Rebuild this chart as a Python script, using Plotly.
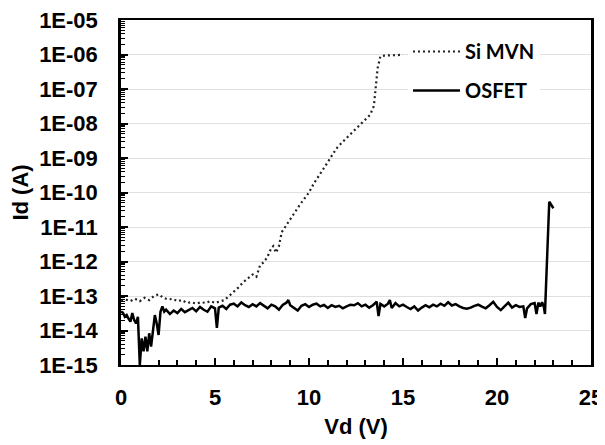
import plotly.graph_objects as go

# ---------------- data ----------------
si_mvn_vd = [0.0, 0.25, 0.5, 0.75, 1.0, 1.25, 1.5, 1.75, 2.0, 2.25, 2.5, 2.75,
             3.0, 3.25, 3.5, 3.75, 4.0, 4.25, 4.5, 4.75, 5.0, 5.25, 5.5, 5.75,
             6.0, 6.25, 6.5, 6.75, 7.0, 7.2, 7.4, 7.6, 7.8, 8.0, 8.1, 8.25,
             8.4, 8.55, 8.75, 9.0, 9.25, 9.5, 9.75, 10.0, 10.25, 10.5, 10.75,
             11.0, 11.25, 11.5, 11.75, 12.0, 12.25, 12.5, 12.75, 13.0, 13.25,
             13.45, 13.55, 13.65, 13.8, 14.0, 14.5, 15.0]
si_mvn_id = [7.6e-14, 7.9e-14, 7.1e-14, 8.3e-14, 7.1e-14, 8.9e-14, 7.6e-14, 1.0e-13,
             1.12e-13, 8.9e-14, 7.9e-14, 8.3e-14, 7.1e-14, 7.6e-14, 6.3e-14, 6.6e-14,
             6.0e-14, 6.6e-14, 6.3e-14, 7.1e-14, 6.3e-14, 7.1e-14, 7.6e-14, 1.0e-13,
             1.32e-13, 1.78e-13, 2.5e-13, 3.2e-13, 4.2e-13, 3.6e-13, 7.9e-13, 9.5e-13,
             1.4e-12, 2.5e-12, 2.8e-12, 1.8e-12, 2.8e-12, 7.1e-12, 1.05e-11, 1.6e-11,
             2.6e-11, 4.3e-11, 6.6e-11, 1.0e-10, 1.8e-10, 3.0e-10, 4.8e-10, 7.6e-10,
             1.26e-9, 2.0e-9, 2.8e-9, 3.8e-9, 5.0e-9, 7.1e-9, 9.5e-9, 1.32e-8,
             1.78e-8, 3.2e-8, 1.0e-7, 4.0e-7, 8.9e-7, 9.3e-7, 9.5e-7, 9.8e-7]

osfet_vd = [0.0, 0.1, 0.2, 0.3, 0.4, 0.5, 0.6, 0.7, 0.8, 0.9, 1.0, 1.1, 1.2, 1.3,
            1.4, 1.5, 1.6, 1.7, 1.8, 1.9, 2.0, 2.1, 2.2, 2.3, 2.4, 2.6, 2.8, 3.0,
            3.2, 3.4, 3.6, 3.8, 4.0, 4.2, 4.4, 4.6, 4.8, 5.0, 5.1, 5.2, 5.4, 5.6,
            5.8, 6.0, 6.2, 6.4, 6.6, 6.8, 7.0, 7.2, 7.4, 7.6, 7.8, 8.0, 8.2, 8.4,
            8.6, 8.8, 8.9, 9.0, 9.2, 9.4, 9.6, 9.8, 10.0, 10.2, 10.4, 10.6, 10.8,
            11.0, 11.2, 11.4, 11.6, 11.8, 12.0, 12.2, 12.4, 12.6, 12.8, 13.0, 13.2,
            13.4, 13.6, 13.7, 13.8, 14.0, 14.2, 14.3, 14.4, 14.6, 14.8, 15.0, 15.2,
            15.4, 15.6, 15.8, 16.0, 16.2, 16.4, 16.6, 16.8, 17.0, 17.2, 17.4, 17.6,
            17.8, 18.0, 18.2, 18.4, 18.6, 18.8, 19.0, 19.2, 19.4, 19.6, 19.8, 20.0,
            20.2, 20.4, 20.6, 20.8, 21.0, 21.2, 21.4, 21.5, 21.6, 21.8, 22.0, 22.1,
            22.2, 22.3, 22.4, 22.5, 22.55, 22.78, 23.0]
osfet_id = [3.5e-14, 3.3e-14, 2.5e-14, 2.8e-14, 2.2e-14, 1.8e-14, 3.2e-14, 2.0e-14,
            1.6e-14, 2.5e-14, 1.0e-15, 5.9e-15, 2.5e-15, 6.6e-15, 2.5e-15, 8.3e-15,
            3.4e-15, 1.15e-14, 2.8e-14, 1.6e-14, 7.4e-15, 3.5e-14, 5.0e-14, 3.5e-14,
            4.0e-14, 3.0e-14, 3.8e-14, 3.2e-14, 4.2e-14, 3.4e-14, 3.9e-14, 4.5e-14,
            3.6e-14, 4.8e-14, 4.0e-14, 3.5e-14, 5.0e-14, 4.4e-14, 1.2e-14, 4.6e-14,
            5.2e-14, 4.2e-14, 5.6e-14, 6.0e-14, 5.0e-14, 6.5e-14, 5.4e-14, 4.8e-14,
            5.8e-14, 5.0e-14, 6.2e-14, 5.3e-14, 4.4e-14, 5.6e-14, 5.0e-14, 4.0e-14,
            5.5e-14, 6.4e-14, 7.6e-14, 5.4e-14, 4.6e-14, 3.8e-14, 5.2e-14, 5.8e-14,
            4.8e-14, 5.6e-14, 6.0e-14, 5.0e-14, 5.5e-14, 4.5e-14, 5.4e-14, 4.8e-14,
            5.2e-14, 4.4e-14, 5.0e-14, 5.6e-14, 5.4e-14, 6.2e-14, 5.0e-14, 5.6e-14,
            4.6e-14, 5.4e-14, 6.8e-14, 2.6e-14, 5.9e-14, 5.0e-14, 6.0e-14, 7.6e-14,
            4.5e-14, 6.2e-14, 5.0e-14, 5.6e-14, 4.8e-14, 4.2e-14, 5.0e-14, 3.8e-14,
            4.6e-14, 5.4e-14, 4.7e-14, 5.6e-14, 5.0e-14, 6.0e-14, 5.2e-14, 6.6e-14,
            5.3e-14, 5.8e-14, 5.0e-14, 4.5e-14, 4.3e-14, 4.6e-14, 5.2e-14, 5.6e-14,
            4.9e-14, 4.4e-14, 5.4e-14, 6.8e-14, 4.8e-14, 3.9e-14, 5.0e-14, 6.4e-14,
            4.6e-14, 5.4e-14, 4.8e-14, 5.0e-14, 2.3e-14, 4.4e-14, 5.8e-14, 6.2e-14,
            3.0e-14, 6.4e-14, 5.0e-14, 6.6e-14, 4.6e-14, 3.0e-14, 5.4e-11, 3.5e-11]

y_tick_vals = [1e-15, 1e-14, 1e-13, 1e-12, 1e-11, 1e-10, 1e-9, 1e-8, 1e-7, 1e-6, 1e-5]
y_tick_text = ["1E-15", "1E-14", "1E-13", "1E-12", "1E-11", "1E-10",
               "1E-09", "1E-08", "1E-07", "1E-06", "1E-05"]
y_minor_vals = [m * 10.0 ** e for e in range(-15, -5) for m in range(2, 10)]

# ---------------- figure ----------------
AX_FONT = dict(family="Liberation Sans", size=22, color="black", weight="bold")

fig = go.Figure()
fig.add_trace(go.Scatter(
    x=si_mvn_vd, y=si_mvn_id, mode="lines", name="Si MVN",
    line=dict(color="#222222", width=2.2, dash="2px,3px"),
    legendgroup="a"))
fig.add_trace(go.Scatter(
    x=osfet_vd, y=osfet_id, mode="lines", name="OSFET",
    line=dict(color="black", width=2.5),
    legendgroup="b"))

# page body has an 8px default margin, so the figure is 8px smaller than the window
fig.update_layout(
    width=597, height=437,
    margin=dict(l=113, r=14, t=12, b=80),
    paper_bgcolor="white", plot_bgcolor="white",
    showlegend=True,
    legend=dict(
        x=(408 - 121) / 470, xanchor="left",
        y=1 - (32 - 20) / 345, yanchor="top",
        bgcolor="white", borderwidth=0,
        font=dict(family="Lato", size=20, color="black", weight="bold"),
        itemwidth=47, traceorder="grouped", tracegroupgap=10,
    ),
    xaxis=dict(
        range=[0, 25], dtick=5, tick0=0, automargin=False,
        ticks="inside", ticklen=7, tickwidth=1.5, tickcolor="black",
        minor=dict(dtick=1, ticks="inside", ticklen=5, tickwidth=1.5, tickcolor="black", showgrid=False),
        showgrid=False, zeroline=False,
        showline=True, linecolor="black", linewidth=2, mirror=True,
        tickfont=AX_FONT, ticklabelstandoff=12, ticklabeloverflow="allow",
        title=dict(text="Vd (V)", font=AX_FONT, standoff=9),
    ),
    yaxis=dict(
        type="log", range=[-15, -5], automargin=False,
        tickmode="array", tickvals=y_tick_vals, ticktext=y_tick_text,
        ticks="inside", ticklen=7, tickwidth=1.5, tickcolor="black",
        minor=dict(tickmode="array", tickvals=y_minor_vals, ticks="inside", ticklen=4,
                   tickwidth=1, tickcolor="black", showgrid=False),
        showgrid=True, gridcolor="#e0e0e0", gridwidth=1,
        zeroline=False,
        showline=True, linecolor="black", linewidth=2.5, mirror=True,
        tickfont=AX_FONT, ticklabelstandoff=16, ticklabeloverflow="allow",
        title=dict(text="Id (A)", font=AX_FONT, standoff=10),
    ),
)

fig.write_html("out.html")
